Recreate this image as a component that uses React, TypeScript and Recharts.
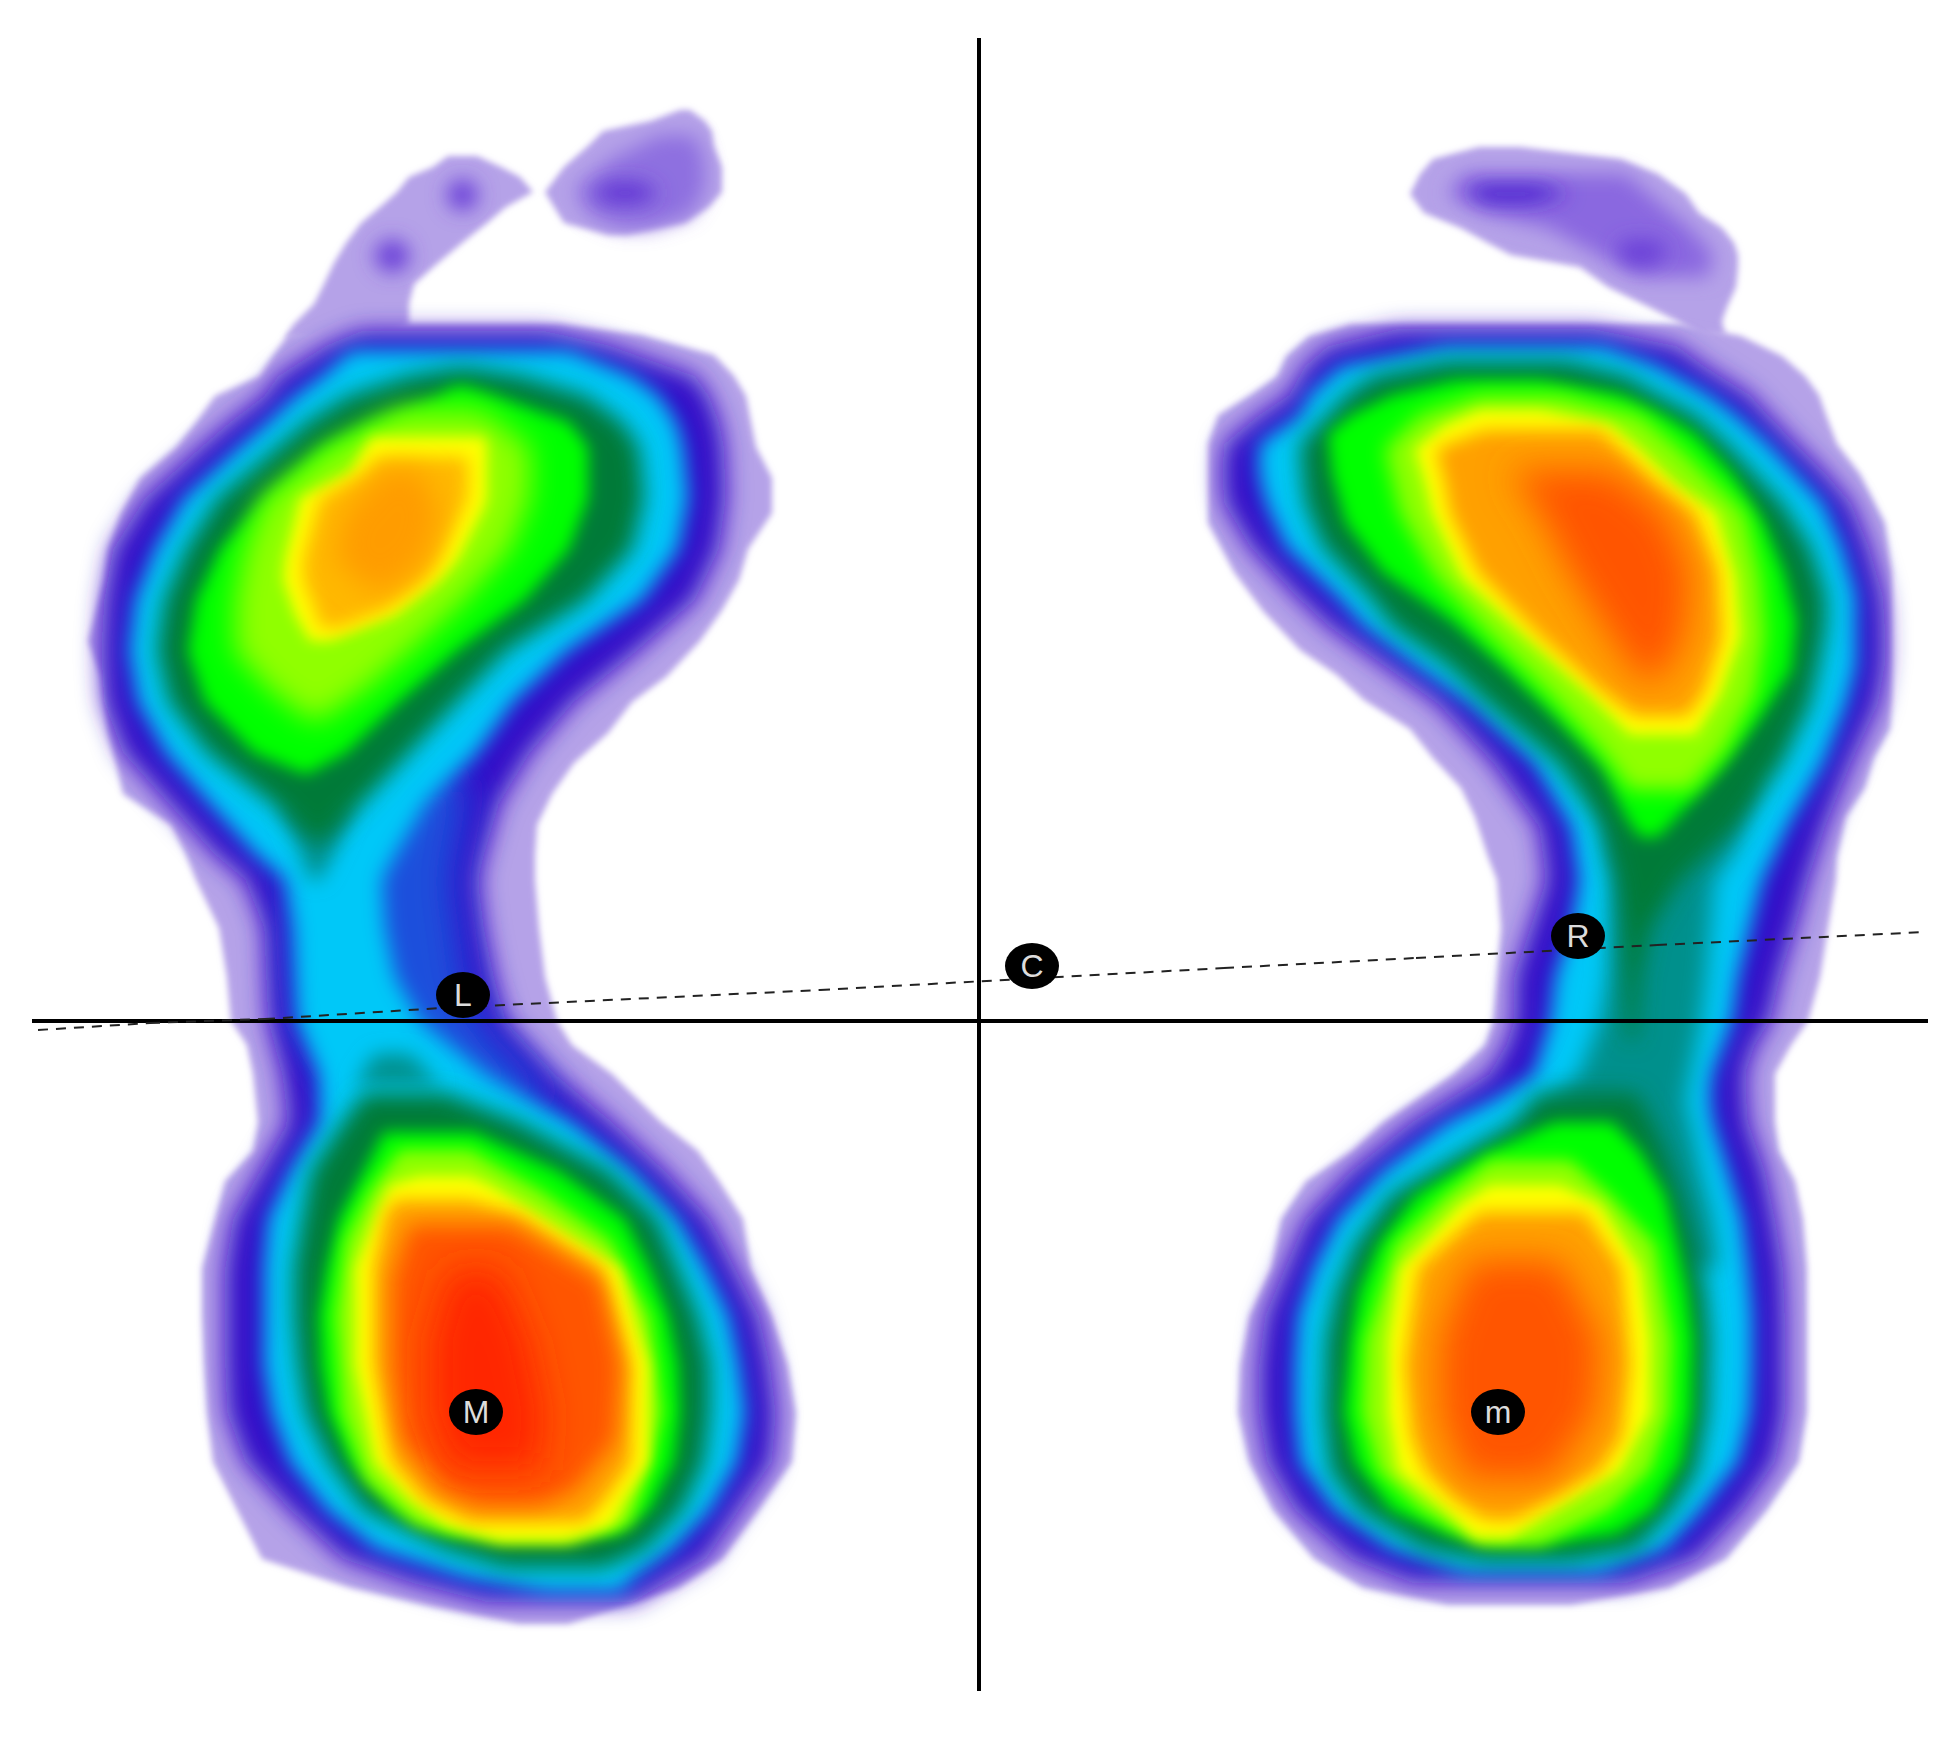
import React from 'react';
import { Area, ComposedChart, ReferenceLine, Scatter, XAxis, YAxis } from 'recharts';

// every contour is a list of rows: [y, left x, right x]
type Row = [number, number, number];

const leftLittleToes: Row[] = [[156, 448, 477], [167, 433, 501], [177, 409, 520], [192, 397, 533], [207, 380, 506], [223, 361, 487], [243, 346, 462], [263, 334, 438], [284, 324, 414], [304, 314, 409], [325, 293, 409], [338, 285, 380]];
const leftToeSpotA: Row[] = [[180, 455, 470], [195, 445, 480], [210, 455, 470]];
const leftToeSpotB: Row[] = [[240, 385, 400], [256, 372, 412], [272, 385, 400]];
const leftBigToe: Row[] = [[110, 680, 690], [121, 651, 705], [131, 603, 712], [146, 588, 714], [167, 564, 722], [192, 545, 722], [207, 554, 709], [223, 564, 685], [235, 608, 627]];
const leftBigToeInner: Row[] = [[135, 660, 695], [160, 610, 705], [190, 575, 705], [215, 590, 690], [228, 620, 650]];
const leftBigToeCore: Row[] = [[182, 610, 640], [193, 590, 660], [204, 610, 640]];

const leftOuter: Row[] = [[324, 351, 559], [335, 288, 642], [355, 273, 714], [376, 259, 734], [396, 215, 746], [422, 196, 751], [447, 176, 756], [478, 140, 772], [513, 121, 772], [549, 108, 748], [580, 104, 739], [610, 96, 722], [641, 88, 700], [677, 101, 666], [702, 104, 632], [733, 108, 608], [763, 116, 574], [794, 123, 552], [825, 171, 537], [855, 186, 535], [880, 196, 535], [928, 219, 539], [977, 227, 545], [1021, 231, 557], [1045, 247, 572], [1074, 253, 612], [1122, 258, 661], [1151, 253, 698], [1181, 225, 719], [1219, 215, 743], [1268, 202, 751], [1316, 202, 772], [1365, 204, 788], [1413, 207, 796], [1462, 213, 792], [1510, 237, 759], [1559, 262, 723], [1588, 351, 678], [1607, 433, 621], [1624, 519, 568]];
const leftIndigo: Row[] = [[331, 361, 545], [345, 327, 608], [376, 278, 695], [396, 264, 709], [422, 230, 719], [447, 201, 724], [498, 145, 726], [549, 113, 719], [600, 104, 695], [651, 101, 637], [702, 104, 574], [753, 123, 530], [804, 169, 499], [855, 215, 484], [880, 245, 478], [928, 264, 484], [977, 266, 494], [1021, 268, 506], [1074, 282, 555], [1122, 288, 612], [1171, 260, 665], [1219, 233, 710], [1268, 225, 735], [1316, 225, 759], [1365, 225, 770], [1413, 227, 776], [1462, 245, 772], [1510, 290, 739], [1559, 343, 706], [1583, 412, 665], [1602, 486, 633]];
const leftMidBlue: Row[] = [[780, 320, 470], [880, 290, 452], [977, 295, 465], [1021, 300, 480], [1074, 330, 530], [1100, 360, 560]];
const leftCyan: Row[] = [[350, 351, 569], [376, 322, 632], [396, 295, 659], [422, 268, 676], [447, 239, 683], [498, 184, 688], [549, 155, 678], [600, 135, 642], [651, 129, 567], [702, 138, 513], [753, 166, 477], [804, 210, 425], [855, 256, 395], [880, 286, 382], [928, 294, 385], [977, 296, 395], [1021, 298, 420], [1074, 319, 485], [1122, 319, 572], [1171, 290, 633], [1219, 268, 678], [1268, 264, 706], [1316, 264, 729], [1365, 264, 739], [1413, 272, 745], [1462, 290, 737], [1510, 327, 710], [1549, 376, 673], [1578, 466, 633], [1592, 547, 621]];
const leftTealBall: Row[] = [[804, 280, 355], [850, 300, 335], [880, 310, 320]];
const leftTealHeel: Row[] = [[1054, 375, 410], [1084, 355, 440]];
const leftDarkBall: Row[] = [[368, 455, 470], [376, 409, 520], [396, 348, 586], [422, 307, 622], [447, 278, 639], [498, 218, 644], [549, 186, 632], [600, 164, 586], [651, 157, 506], [702, 169, 457], [753, 208, 409], [804, 273, 361], [845, 317, 319]];
const leftDarkHeel: Row[] = [[1093, 364, 445], [1122, 343, 519], [1171, 311, 608], [1219, 302, 657], [1268, 294, 678], [1316, 294, 698], [1365, 298, 710], [1413, 306, 710], [1462, 329, 704], [1510, 364, 682], [1549, 445, 645], [1568, 506, 604]];
const leftGreenBall: Row[] = [[386, 455, 465], [396, 438, 496], [422, 370, 569], [447, 322, 588], [498, 264, 588], [549, 220, 569], [600, 196, 525], [651, 188, 457], [702, 205, 399], [753, 254, 346], [774, 305, 307]];
const leftGreenHeel: Row[] = [[1132, 384, 474], [1171, 364, 559], [1219, 339, 625], [1268, 327, 649], [1316, 319, 668], [1365, 321, 678], [1413, 329, 680], [1462, 351, 674], [1510, 396, 649], [1534, 449, 616]];
const leftLimeBall: Row[] = [[410, 400, 480], [447, 330, 530], [498, 265, 530], [549, 245, 510], [600, 235, 465], [651, 235, 410], [690, 270, 365], [720, 310, 320]];
const leftLimeHeel: Row[] = [[1150, 400, 470], [1190, 370, 540], [1240, 345, 610], [1316, 335, 650], [1413, 342, 662], [1480, 365, 645], [1525, 415, 630], [1545, 500, 570]];
const leftYellowBall: Row[] = [[437, 372, 485], [447, 365, 487], [473, 350, 487], [498, 300, 487], [508, 298, 484], [559, 285, 458], [580, 283, 440], [615, 295, 395], [641, 310, 330]];
const leftYellowHeel: Row[] = [[1176, 420, 470], [1185, 390, 490], [1210, 378, 530], [1268, 355, 620], [1365, 355, 649], [1462, 375, 649], [1500, 410, 625], [1525, 445, 612], [1540, 500, 565]];
const leftOrangeBall: Row[] = [[457, 378, 468], [473, 365, 468], [498, 320, 468], [559, 303, 440], [580, 303, 425], [610, 315, 385], [628, 320, 340]];
const leftOrangeCore: Row[] = [[470, 385, 420], [513, 345, 440], [560, 335, 425], [590, 370, 390]];
const leftOrangeHeel: Row[] = [[1200, 395, 470], [1215, 385, 520], [1268, 374, 602], [1365, 374, 631], [1462, 392, 631], [1500, 425, 605], [1522, 470, 585]];
const leftHotHeel: Row[] = [[1225, 410, 510], [1280, 392, 600], [1365, 392, 620], [1440, 402, 615], [1490, 445, 575], [1505, 480, 540]];
const leftRedHeel: Row[] = [[1270, 450, 500], [1340, 430, 530], [1413, 430, 545], [1470, 450, 540]];

const rightToes: Row[] = [[147, 1479, 1520], [159, 1433, 1621], [174, 1420, 1658], [194, 1410, 1686], [213, 1424, 1699], [228, 1461, 1722], [243, 1488, 1734], [255, 1511, 1738], [267, 1580, 1738], [287, 1608, 1736], [307, 1649, 1727], [321, 1677, 1722], [335, 1700, 1725]];
const rightToesInner: Row[] = [[174, 1465, 1626], [194, 1447, 1649], [213, 1484, 1672], [228, 1548, 1690], [253, 1594, 1713], [277, 1640, 1709]];
const rightToeCoreA: Row[] = [[185, 1480, 1540], [194, 1465, 1570], [203, 1490, 1530]];
const rightToeCoreB: Row[] = [[240, 1625, 1655], [253, 1615, 1670], [266, 1630, 1650]];

const rightOuter: Row[] = [[324, 1351, 1681], [336, 1309, 1741], [356, 1286, 1782], [376, 1277, 1805], [395, 1250, 1819], [415, 1218, 1826], [444, 1208, 1837], [474, 1208, 1860], [523, 1208, 1885], [572, 1234, 1892], [611, 1263, 1892], [650, 1300, 1892], [675, 1337, 1892], [700, 1364, 1892], [729, 1410, 1890], [758, 1433, 1874], [788, 1461, 1865], [817, 1475, 1846], [857, 1488, 1837], [880, 1497, 1836], [928, 1501, 1828], [977, 1497, 1820], [1021, 1493, 1808], [1045, 1485, 1791], [1074, 1453, 1775], [1122, 1383, 1775], [1151, 1351, 1779], [1181, 1306, 1795], [1219, 1281, 1803], [1268, 1271, 1807], [1316, 1249, 1807], [1365, 1240, 1807], [1413, 1238, 1807], [1462, 1249, 1799], [1510, 1273, 1767], [1559, 1314, 1726], [1588, 1363, 1669], [1605, 1448, 1571]];
const rightIndigo: Row[] = [[329, 1397, 1594], [346, 1328, 1677], [366, 1305, 1704], [395, 1289, 1750], [415, 1259, 1768], [444, 1224, 1796], [474, 1222, 1826], [503, 1224, 1851], [547, 1250, 1869], [596, 1296, 1883], [626, 1328, 1885], [665, 1383, 1885], [704, 1438, 1878], [763, 1493, 1851], [827, 1539, 1825], [880, 1546, 1808], [928, 1530, 1795], [977, 1514, 1780], [1021, 1514, 1770], [1045, 1506, 1755], [1074, 1489, 1745], [1122, 1412, 1748], [1171, 1351, 1765], [1219, 1306, 1775], [1268, 1285, 1783], [1316, 1265, 1785], [1365, 1259, 1785], [1413, 1259, 1785], [1462, 1267, 1775], [1510, 1295, 1742], [1559, 1351, 1697], [1583, 1412, 1628]];
const rightCyan: Row[] = [[346, 1447, 1603], [366, 1341, 1658], [395, 1309, 1709], [415, 1300, 1736], [444, 1259, 1768], [474, 1259, 1796], [503, 1266, 1823], [547, 1286, 1842], [596, 1337, 1856], [626, 1364, 1856], [665, 1415, 1856], [704, 1470, 1846], [763, 1534, 1823], [827, 1571, 1787], [880, 1579, 1762], [928, 1571, 1750], [977, 1555, 1738], [1021, 1550, 1732], [1074, 1534, 1712], [1098, 1497, 1710], [1122, 1448, 1713], [1171, 1383, 1728], [1219, 1338, 1742], [1268, 1314, 1748], [1316, 1298, 1752], [1365, 1295, 1752], [1413, 1295, 1750], [1462, 1300, 1738], [1510, 1334, 1701], [1549, 1391, 1665], [1573, 1465, 1599]];
const rightTeal: Row[] = [[780, 1600, 1760], [850, 1605, 1735], [880, 1612, 1714], [977, 1608, 1706], [1021, 1600, 1701], [1074, 1579, 1690], [1103, 1546, 1685], [1122, 1600, 1690], [1171, 1620, 1700], [1219, 1650, 1712], [1268, 1660, 1718]];
const rightDarkBall: Row[] = [[361, 1447, 1566], [376, 1374, 1626], [395, 1346, 1658], [415, 1328, 1695], [444, 1300, 1727], [474, 1302, 1755], [503, 1305, 1782], [547, 1323, 1810], [596, 1369, 1826], [626, 1392, 1826], [665, 1447, 1819], [704, 1488, 1810], [763, 1557, 1782], [827, 1603, 1736], [880, 1617, 1680], [928, 1622, 1650], [977, 1624, 1640], [1040, 1628, 1636]];
const rightDarkHeel: Row[] = [[1093, 1538, 1636], [1122, 1514, 1652], [1151, 1465, 1665], [1195, 1391, 1681], [1244, 1355, 1695], [1292, 1336, 1706], [1340, 1326, 1710], [1413, 1324, 1708], [1471, 1330, 1697], [1510, 1359, 1673], [1549, 1424, 1636], [1561, 1485, 1571]];
const rightGreenBall: Row[] = [[380, 1456, 1539], [395, 1392, 1621], [415, 1351, 1663], [434, 1328, 1695], [474, 1332, 1732], [523, 1346, 1764], [572, 1383, 1784], [621, 1452, 1796], [670, 1507, 1791], [719, 1557, 1759], [768, 1603, 1722], [817, 1626, 1677], [837, 1640, 1658]];
const rightGreenHeel: Row[] = [[1122, 1555, 1612], [1151, 1489, 1640], [1195, 1416, 1665], [1244, 1379, 1677], [1292, 1359, 1687], [1340, 1351, 1693], [1413, 1344, 1691], [1462, 1355, 1681], [1510, 1391, 1652], [1534, 1448, 1616], [1544, 1497, 1546]];
const rightLimeBall: Row[] = [[395, 1480, 1560], [415, 1420, 1640], [449, 1385, 1680], [513, 1400, 1745], [577, 1435, 1760], [636, 1490, 1765], [695, 1550, 1755], [750, 1600, 1725], [790, 1630, 1690]];
const rightLimeHeel: Row[] = [[1160, 1490, 1570], [1195, 1445, 1610], [1244, 1395, 1655], [1340, 1365, 1672], [1413, 1362, 1670], [1471, 1378, 1650], [1510, 1420, 1610], [1545, 1480, 1540]];
const rightYellowBall: Row[] = [[410, 1480, 1540], [425, 1445, 1610], [449, 1415, 1640], [484, 1425, 1675], [513, 1432, 1716], [577, 1462, 1735], [636, 1525, 1740], [695, 1590, 1720], [735, 1630, 1695]];
const rightYellowHeel: Row[] = [[1185, 1490, 1560], [1205, 1460, 1600], [1268, 1400, 1640], [1340, 1388, 1650], [1413, 1388, 1650], [1471, 1398, 1620], [1510, 1445, 1555], [1538, 1475, 1510]];
const rightOrangeBall: Row[] = [[430, 1485, 1600], [449, 1436, 1620], [484, 1445, 1655], [513, 1450, 1695], [572, 1478, 1718], [636, 1540, 1722], [690, 1600, 1705], [716, 1635, 1688]];
const rightHotBall: Row[] = [[470, 1510, 1610], [513, 1540, 1665], [572, 1570, 1690], [636, 1610, 1685], [680, 1640, 1660]];
const rightOrangeHeel: Row[] = [[1212, 1480, 1585], [1268, 1418, 1622], [1365, 1405, 1630], [1437, 1412, 1622], [1471, 1425, 1600], [1500, 1455, 1550], [1520, 1485, 1515]];
const rightHotHeel: Row[] = [[1260, 1470, 1560], [1340, 1440, 1600], [1413, 1440, 1595], [1480, 1465, 1550]];

const dashTrail = [[38, 1030], [150, 1023], [265, 1019], [441, 1008], [820, 990], [1224, 968], [1416, 958], [1657, 945], [1925, 932]];
const markers = [
  { x: 463, y: 995, name: 'L' },
  { x: 1032, y: 966, name: 'C' },
  { x: 1578, y: 936, name: 'R' },
  { x: 476, y: 1412, name: 'M' },
  { x: 1498, y: 1412, name: 'm' },
];

const PURPLE = '#b5a2e8';
const INDIGO = '#3208c8';
const BLUE = '#1a50dc';
const CYAN = '#00c8f8';
const TEAL = '#00908c';
const DARK = '#007a38';
const GREEN = '#00ff00';
const LIME = '#90ff00';
const YELLOW = '#ffff00';
const ORANGE = '#ffa000';
const HOT = '#ff5400';
const RED = '#ff2800';

const blurs = [3, 7, 8, 9, 10, 11, 12, 14, 18];

// back to front
const layers: { rows: Row[]; fill: string; blur: number }[] = [
  { rows: leftLittleToes, fill: PURPLE, blur: 3 },
  { rows: leftToeSpotA, fill: '#6a40d8', blur: 10 },
  { rows: leftToeSpotB, fill: '#6a40d8', blur: 10 },
  { rows: leftBigToe, fill: PURPLE, blur: 3 },
  { rows: leftBigToeInner, fill: '#8e6fe0', blur: 10 },
  { rows: leftBigToeCore, fill: '#6035d4', blur: 10 },
  { rows: rightToes, fill: PURPLE, blur: 3 },
  { rows: rightToesInner, fill: '#8a68e0', blur: 10 },
  { rows: rightToeCoreA, fill: '#4a20d0', blur: 10 },
  { rows: rightToeCoreB, fill: '#6a40d8', blur: 10 },
  { rows: leftOuter, fill: PURPLE, blur: 3 },
  { rows: leftIndigo, fill: INDIGO, blur: 12 },
  { rows: leftMidBlue, fill: BLUE, blur: 18 },
  { rows: leftCyan, fill: CYAN, blur: 10 },
  { rows: leftTealBall, fill: TEAL, blur: 10 },
  { rows: leftTealHeel, fill: TEAL, blur: 10 },
  { rows: leftDarkBall, fill: DARK, blur: 11 },
  { rows: leftDarkHeel, fill: DARK, blur: 11 },
  { rows: leftGreenBall, fill: GREEN, blur: 8 },
  { rows: leftGreenHeel, fill: GREEN, blur: 8 },
  { rows: leftLimeBall, fill: LIME, blur: 14 },
  { rows: leftLimeHeel, fill: LIME, blur: 8 },
  { rows: leftYellowBall, fill: YELLOW, blur: 7 },
  { rows: leftYellowHeel, fill: YELLOW, blur: 7 },
  { rows: leftOrangeBall, fill: '#ffb800', blur: 9 },
  { rows: leftOrangeCore, fill: '#ff9c00', blur: 14 },
  { rows: leftOrangeHeel, fill: ORANGE, blur: 9 },
  { rows: leftHotHeel, fill: HOT, blur: 11 },
  { rows: leftRedHeel, fill: RED, blur: 18 },
  { rows: rightOuter, fill: PURPLE, blur: 3 },
  { rows: rightIndigo, fill: INDIGO, blur: 12 },
  { rows: rightCyan, fill: CYAN, blur: 10 },
  { rows: rightTeal, fill: TEAL, blur: 11 },
  { rows: rightDarkBall, fill: DARK, blur: 11 },
  { rows: rightDarkHeel, fill: DARK, blur: 11 },
  { rows: rightGreenBall, fill: GREEN, blur: 8 },
  { rows: rightGreenHeel, fill: GREEN, blur: 8 },
  { rows: rightLimeBall, fill: LIME, blur: 10 },
  { rows: rightLimeHeel, fill: LIME, blur: 8 },
  { rows: rightYellowBall, fill: YELLOW, blur: 7 },
  { rows: rightYellowHeel, fill: YELLOW, blur: 7 },
  { rows: rightOrangeBall, fill: ORANGE, blur: 9 },
  { rows: rightHotBall, fill: HOT, blur: 18 },
  { rows: rightOrangeHeel, fill: ORANGE, blur: 9 },
  { rows: rightHotHeel, fill: HOT, blur: 18 },
];

const toBand = (rows: Row[]) => rows.map(([y, left, right]) => ({ y, band: [left, right] }));

const Marker = (props: any) => {
  const { cx, cy, payload } = props;
  return (
    <g>
      <ellipse cx={cx} cy={cy} rx={27} ry={23} fill="#000" />
      <text x={cx} y={cy + 11} textAnchor="middle" fontFamily="Liberation Sans" fontSize={32} fill="#dcdcdc">
        {payload.name}
      </text>
    </g>
  );
};

const App = () => (
  <div style={{ position: 'absolute', left: 0, top: 0 }}>
    <style>{blurs.map((b) => `.soft-${b} { filter: url(#soft${b}); }`).join(' ')}</style>
    <ComposedChart width={1959} height={1737} layout="vertical" margin={{ top: 0, right: 0, bottom: 0, left: 0 }}>
      <defs>
        {blurs.map((b) => (
          <filter key={b} id={`soft${b}`} filterUnits="userSpaceOnUse" x="0" y="0" width="1959" height="1737">
            <feGaussianBlur stdDeviation={b} />
          </filter>
        ))}
      </defs>
      <XAxis type="number" dataKey="x" domain={[0, 1959]} hide />
      <YAxis type="number" dataKey="y" domain={[0, 1737]} hide />
      {layers.map((layer, i) => (
        <Area
          key={i}
          data={toBand(layer.rows)}
          dataKey="band"
          type="linear"
          fill={layer.fill}
          fillOpacity={1}
          stroke="none"
          dot={false}
          activeDot={false}
          className={`soft-${layer.blur}`}
          isAnimationActive={false}
        />
      ))}
      <ReferenceLine segment={[{ x: 979, y: 38 }, { x: 979, y: 1691 }]} stroke="#000" strokeWidth={4} />
      <ReferenceLine segment={[{ x: 32, y: 1021 }, { x: 1928, y: 1021 }]} stroke="#000" strokeWidth={4} />
      {dashTrail.slice(1).map((p, i) => (
        <ReferenceLine
          key={i}
          segment={[{ x: dashTrail[i][0], y: dashTrail[i][1] }, { x: p[0], y: p[1] }]}
          stroke="#222"
          strokeWidth={2}
          strokeDasharray="10 8"
        />
      ))}
      <Scatter data={markers} shape={<Marker />} isAnimationActive={false} />
    </ComposedChart>
  </div>
);

export default App;
